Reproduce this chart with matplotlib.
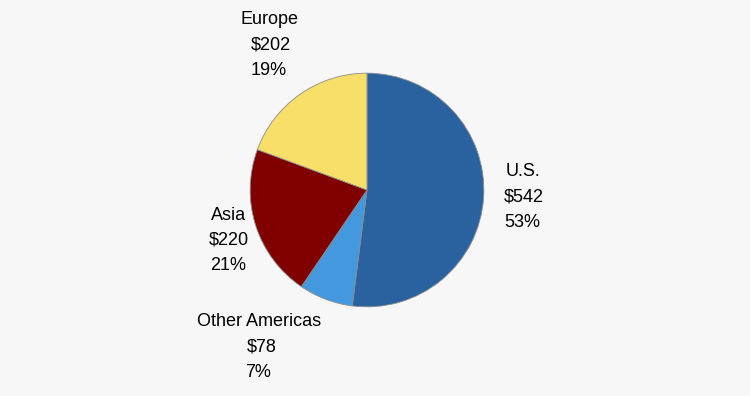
import matplotlib
matplotlib.use("Agg")
import matplotlib.pyplot as plt

regions = ["U.S.", "Other Americas", "Asia", "Europe"]
values = [542, 78, 220, 202]
percents = [53, 7, 21, 19]
colors = ["#2a62a0", "#4499de", "#800000", "#f8df6a"]

W, H = 750, 396
fig = plt.figure(figsize=(7.5, 3.96), dpi=100)
fig.patch.set_facecolor("#f7f7f7")

# pie centre / radius in pixels
cx, cy, r = 367, 190, 118
ax = fig.add_axes([(cx - r) / W, (H - cy - r) / H, 2 * r / W, 2 * r / H])
ax.pie(values, colors=colors, startangle=90, counterclock=False,
       wedgeprops=dict(edgecolor="#8c8c8c", linewidth=0.6))
ax.set_xlim(-1.01, 1.01)
ax.set_ylim(-1.01, 1.01)
ax.set_aspect("equal")
ax.axis("off")

# label line centres (pixels): one x per line, first line y, step
label_pos = {
    "U.S.": ([523, 524, 522], 172),
    "Other Americas": ([259, 262, 258], 322),
    "Asia": ([229, 229, 228], 215),
    "Europe": ([270, 271, 269], 20),
}
step = 25.3
for name, v, p in zip(regions, values, percents):
    xs, y0 = label_pos[name]
    lines = [name, "$%d" % v, "%d%%" % p]
    for i, (line, x) in enumerate(zip(lines, xs)):
        fig.text(x / W, 1 - (y0 + i * step) / H, line, ha="center", va="center",
                 fontsize=13, family=["Liberation Sans", "DejaVu Sans"], color="#000000")

fig.savefig("out.png", dpi=100, facecolor=fig.get_facecolor())
